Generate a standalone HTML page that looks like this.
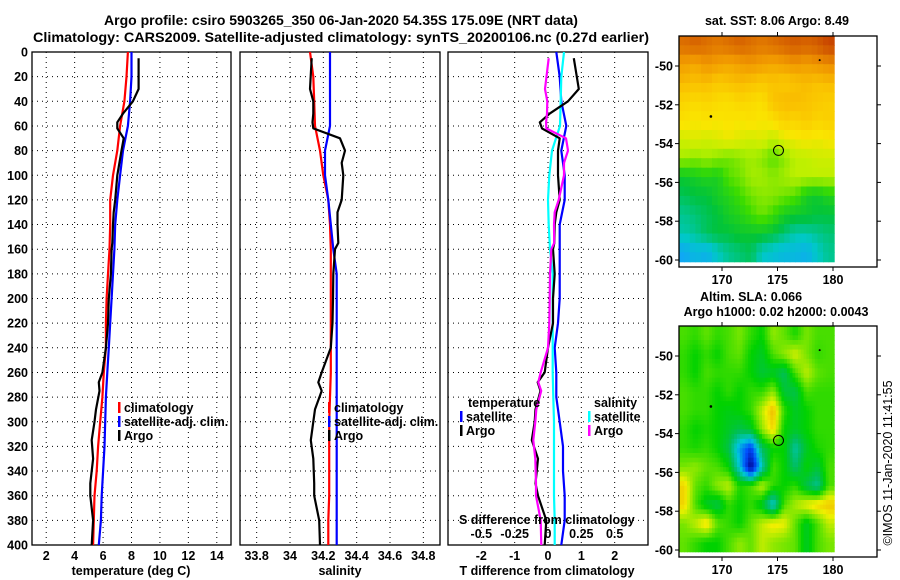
<!DOCTYPE html>
<html><head><meta charset="utf-8"><style>
html,body{margin:0;padding:0;background:#fff;}
svg{display:block;font-family:"Liberation Sans",Arial,sans-serif;font-weight:bold;}
</style></head><body>
<svg id="fig" width="900" height="580" viewBox="0 0 900 580">
<text x="341" y="25" font-size="14" text-anchor="middle">Argo profile: csiro 5903265_350 06-Jan-2020 54.35S 175.09E (NRT data)</text>
<text x="341" y="42" font-size="14" text-anchor="middle" textLength="616" lengthAdjust="spacingAndGlyphs">Climatology: CARS2009. Satellite-adjusted climatology: synTS_20200106.nc (0.27d earlier)</text>
<text x="777" y="25" font-size="12.5" text-anchor="middle">sat. SST: 8.06 Argo: 8.49</text>
<text x="751" y="301" font-size="12.5" text-anchor="middle">Altim. SLA: 0.066</text>
<text x="776" y="316" font-size="12.5" text-anchor="middle">Argo h1000: 0.02 h2000: 0.0043</text>
<text transform="translate(892,463) rotate(-90)" font-size="12.5" font-weight="normal" text-anchor="middle">©IMOS 11-Jan-2020 11:41:55</text>
<text x="131" y="575" font-size="12.5" text-anchor="middle">temperature (deg C)</text>
<text x="340" y="575" font-size="12.5" text-anchor="middle">salinity</text>
<text x="547" y="575" font-size="12.5" text-anchor="middle">T difference from climatology</text>
<g id="g"></g>
</svg>
<script>
// ---------- data ----------
const depthTicks=[0,20,40,60,80,100,120,140,160,180,200,220,240,260,280,300,320,340,360,380,400];
const climDepth=[0,20,40,60,80,100,120,140,160,180,200,220,240,260,280,300,320,340,360,380,400];
const climT=[7.75,7.65,7.5,7.2,7.0,6.7,6.5,6.5,6.45,6.35,6.25,6.2,6.2,6.05,5.95,5.8,5.65,5.55,5.4,5.35,5.3];
const satT=[8.0,8.0,7.9,7.75,7.4,7.2,7.0,6.85,6.8,6.7,6.6,6.5,6.4,6.3,6.2,6.15,6.1,6.0,5.9,5.85,5.7];
const climS=[34.12,34.14,34.145,34.15,34.18,34.2,34.23,34.24,34.245,34.245,34.245,34.245,34.245,34.245,34.24,34.235,34.235,34.235,34.235,34.23,34.23];
const satS=[34.24,34.24,34.24,34.24,34.21,34.21,34.23,34.245,34.26,34.28,34.28,34.28,34.28,34.28,34.28,34.28,34.28,34.28,34.28,34.28,34.28];
const argoDepth=[5,30,40,50,57,62,70,80,90,100,120,130,140,155,160,180,200,220,240,260,268,275,290,300,315,330,350,360,380,400];
const argoT=[8.5,8.5,8.1,7.4,7.0,7.0,7.45,7.3,7.15,7.0,6.85,6.75,6.7,6.65,6.6,6.55,6.4,6.35,6.2,5.95,5.7,5.75,5.5,5.4,5.2,5.3,5.1,5.1,5.3,5.2];
const argoS=[34.13,34.12,34.14,34.14,34.135,34.14,34.3,34.33,34.31,34.32,34.31,34.285,34.285,34.29,34.27,34.26,34.258,34.255,34.245,34.19,34.17,34.19,34.15,34.14,34.125,34.14,34.145,34.145,34.175,34.18];
const tTicks=[2,4,6,8,10,12,14];
const sTicks=[33.8,34,34.2,34.4,34.6,34.8];
const sTickLabels=["33.8","34","34.2","34.4","34.6","34.8"];
const dTTicks=[-2,-1,0,1,2];
const dSTicks=[-0.5,-0.25,0,0.25,0.5];
const latTicks=[-50,-52,-54,-56,-58,-60];
const lonTicks=[170,175,180];
const argoLon=175.09, argoLat=-54.35;
const sstGrid=[
[10.2,10.3,10.2,10.1,10.2,10.3,10.2,10.1,10.2,10.3,10.4,10.3,10.4,10.6],
[9.7,9.6,9.8,9.7,9.6,9.7,9.8,9.7,9.6,9.7,9.8,9.7,9.8,9.9],
[9.4,9.3,9.4,9.2,9.3,9.4,9.3,9.2,9.3,9.2,9.3,9.4,9.3,9.4],
[9.0,8.9,9.0,8.9,8.8,9.0,8.9,8.8,9.3,9.4,9.4,9.3,9.2,9.1],
[8.8,8.7,8.8,8.7,8.8,8.7,8.8,8.7,8.8,9.1,9.0,9.2,9.0,9.1],
[8.4,8.5,8.4,8.5,8.6,8.5,8.4,8.5,8.3,8.5,8.6,8.7,8.6,8.7],
[8.2,8.1,8.2,8.1,8.0,8.1,8.2,8.1,7.9,8.1,8.3,8.3,8.4,8.4],
[7.4,7.5,7.6,7.5,7.9,8.0,8.2,8.2,8.1,8.2,8.3,8.3,8.3,8.3],
[7.2,7.3,7.3,7.5,7.6,7.8,8.0,8.1,8.1,8.0,7.9,7.5,7.4,7.6],
[7.0,7.1,7.2,7.3,7.5,7.6,7.8,8.0,7.8,7.5,7.4,7.4,7.3,7.3],
[6.9,7.0,7.2,7.3,7.3,7.4,7.4,7.4,7.3,7.1,6.9,6.9,7.0,7.1],
[6.4,6.6,6.5,6.8,7.0,7.1,7.2,6.8,6.7,6.6,6.6,6.5,6.8,7.0]];
const slaGrid=[
[0.03,0.02,0.04,0.02,0.03,0.05,0.02,0.0,0.06,0.04,0.01,0.05,0.03,0.03],
[0.02,0.0,0.02,0.0,0.03,0.04,0.0,-0.02,0.03,0.06,0.09,0.05,0.02,0.03],
[0.02,0.0,0.03,0.02,0.02,0.02,0.0,-0.03,-0.02,-0.05,0.03,0.08,0.04,0.03],
[0.03,0.02,0.02,0.0,0.02,0.0,0.02,0.02,0.06,-0.03,-0.04,0.03,0.02,0.02],
[0.03,0.02,0.02,0.0,-0.01,0.0,0.02,0.08,0.14,0.02,-0.02,0.0,0.02,0.02],
[0.02,0.0,0.01,0.0,-0.02,-0.04,-0.02,0.06,0.12,0.0,-0.02,0.0,0.02,0.02],
[0.02,0.01,0.02,0.0,-0.04,-0.15,-0.22,-0.05,0.0,0.0,-0.09,-0.02,0.01,0.02],
[0.05,0.06,0.04,0.03,0.0,-0.12,-0.3,-0.1,0.03,0.0,-0.06,0.0,-0.03,0.03],
[0.12,0.04,0.02,0.06,0.08,0.01,0.03,0.08,0.02,0.0,0.02,-0.04,-0.08,0.03],
[0.12,0.03,-0.02,-0.04,0.02,0.0,0.02,-0.02,-0.12,0.03,0.07,0.1,0.12,0.13],
[0.05,0.08,0.12,0.04,0.02,0.0,0.04,0.08,0.11,0.1,0.04,-0.02,0.03,0.08],
[0.04,0.02,0.0,0.0,0.03,0.06,0.04,0.08,0.06,0.05,0.04,-0.02,0.03,0.05]];
const gridLon0=166.1, gridLat0=-48.45, gridDLat=0.97;

// ---------- helpers ----------
const NS="http://www.w3.org/2000/svg";
const G=document.getElementById('g');
function mk(tag,attrs,parent){const e=document.createElementNS(NS,tag);for(const k in attrs)e.setAttribute(k,attrs[k]);(parent||G).appendChild(e);return e;}
const yD=d=>52+d*(493/400);
const P1={x0:32,x1:231,min:1,max:15};
const P2={x0:240,x1:440,min:33.7,max:34.9};
const P3={x0:448,x1:648,min:-3,max:3};
const xs=(p,v)=>p.x0+(v-p.min)/(p.max-p.min)*(p.x1-p.x0);
const xS3=v=>xs(P3,v*4);
function interp(xd,yv,d){if(d<=xd[0])return yv[0];for(let i=1;i<xd.length;i++){if(d<=xd[i]){const t=(d-xd[i-1])/(xd[i]-xd[i-1]);return yv[i-1]+t*(yv[i]-yv[i-1]);}}return yv[yv.length-1];}

function panel(p,name,ticks,labels,showDepth){
  const frame=mk('rect',{x:p.x0,y:52,width:p.x1-p.x0,height:493,fill:'none',stroke:'#000','stroke-width':1.3});
  
  
  depthTicks.forEach(d=>{
    if(d>0&&d<400){const l=mk('line',{x1:p.x0,x2:p.x1,y1:yD(d),y2:yD(d),stroke:'#000','stroke-dasharray':'1 4'});
    
    }
    if(showDepth){const t=mk('text',{x:28,y:yD(d)+4.5,'font-size':12.5,'text-anchor':'end'});t.textContent=d;
    
    }
  });
  ticks.forEach((v,i)=>{
    const x=xs(p,v);
    const l=mk('line',{x1:x,x2:x,y1:52,y2:545,stroke:'#000','stroke-dasharray':'1 4'});
    
    
    const t=mk('text',{x:x,y:560,'font-size':12.5,'text-anchor':'middle'});t.textContent=labels[i];
    
    
  });
}
function line(pts,color,name,w){
  const pl=mk('polyline',{points:pts.map(p=>p[0].toFixed(1)+','+p[1].toFixed(1)).join(' '),fill:'none',stroke:color,'stroke-width':w||2.2,'stroke-linejoin':'round'});
  
  
}
function legend(x,y,color,label,name){
  const r=mk('rect',{x:x,y:y-10,width:2.5,height:11,fill:color});
  
  
  const t=mk('text',{x:x+6,y:y,'font-size':12.5});t.textContent=label;
  
  
}

// ---------- panel 1: temperature ----------
panel(P1,'temperature-panel',tTicks,tTicks.map(String),true);
line(climDepth.map((d,i)=>[xs(P1,climT[i]),yD(d)]),'#f00','temperature-climatology-line');
line(climDepth.map((d,i)=>[xs(P1,satT[i]),yD(d)]),'#00f','temperature-satellite-line');
line(argoDepth.map((d,i)=>[xs(P1,argoT[i]),yD(d)]),'#000','temperature-argo-line');
legend(118,412,'#f00','climatology','temp-legend-climatology');
legend(118,426,'#00f','satellite-adj. clim.','temp-legend-satellite');
legend(118,440,'#000','Argo','temp-legend-argo');

// ---------- panel 2: salinity ----------
panel(P2,'salinity-panel',sTicks,sTickLabels,false);
line(climDepth.map((d,i)=>[xs(P2,climS[i]),yD(d)]),'#f00','salinity-climatology-line');
line(climDepth.map((d,i)=>[xs(P2,satS[i]),yD(d)]),'#00f','salinity-satellite-line');
line(argoDepth.map((d,i)=>[xs(P2,argoS[i]),yD(d)]),'#000','salinity-argo-line');
legend(328,412,'#f00','climatology','sal-legend-climatology');
legend(328,426,'#00f','satellite-adj. clim.','sal-legend-satellite');
legend(328,440,'#000','Argo','sal-legend-argo');

// ---------- panel 3: differences ----------
panel(P3,'difference-panel',dTTicks,dTTicks.map(String),false);
line(climDepth.map((d,i)=>[xs(P3,satT[i]-climT[i]),yD(d)]),'#00f','tdiff-satellite-line');
line(climDepth.map((d,i)=>[xS3(satS[i]-climS[i]),yD(d)]),'#0ff','sdiff-satellite-line');
line(argoDepth.map((d,i)=>[xs(P3,argoT[i]-interp(climDepth,climT,d)),yD(d)]),'#000','tdiff-argo-line');
line(argoDepth.map((d,i)=>[xS3(argoS[i]-interp(climDepth,climS,d)),yD(d)]),'#f0f','sdiff-argo-line');
{
 const t=mk('text',{x:468,y:407,'font-size':12.5});t.textContent='temperature';
 
 
 const s=mk('text',{x:594,y:407,'font-size':12.5});s.textContent='salinity';
 
 
}
legend(460,421,'#00f','satellite','tdiff-legend-satellite');
legend(460,435,'#000','Argo','tdiff-legend-argo');
legend(588,421,'#0ff','satellite','sdiff-legend-satellite');
legend(588,435,'#f0f','Argo','sdiff-legend-argo');
{
 const t=mk('text',{x:459,y:524,'font-size':12.5});t.textContent='S difference from climatology';
 
 
 dSTicks.forEach(v=>{
  const l=mk('text',{x:xS3(v),y:538,'font-size':12.5,'text-anchor':'middle'});l.textContent=String(v);
  
  
 });
}

// ---------- maps ----------
function lerpCol(stops,v){
  if(v<=stops[0][0])return stops[0][1];
  for(let i=1;i<stops.length;i++){if(v<=stops[i][0]){const t=(v-stops[i-1][0])/(stops[i][0]-stops[i-1][0]);const a=stops[i-1][1],b=stops[i][1];return a.map((c,k)=>Math.round(c+t*(b[k]-c)));}}
  return stops[stops.length-1][1];
}
const sstStops=[[6.3,[20,160,255]],[6.8,[0,200,200]],[7.3,[0,195,60]],[7.8,[60,220,0]],[8.3,[190,240,0]],[8.7,[250,230,0]],[9.3,[250,195,0]],[9.8,[240,150,0]],[10.6,[200,70,0]]];
const slaStops=[[-0.3,[0,0,140]],[-0.2,[0,80,255]],[-0.12,[0,200,220]],[-0.05,[0,190,90]],[0,[0,210,0]],[0.05,[120,230,0]],[0.1,[240,240,0]],[0.15,[240,170,0]]];
function sampleGrid(grid,fr,fc){
  const R=grid.length,C=grid[0].length;
  fr=Math.max(0,Math.min(R-1,fr));fc=Math.max(0,Math.min(C-1,fc));
  const r0=Math.floor(fr),c0=Math.floor(fc),r1=Math.min(R-1,r0+1),c1=Math.min(C-1,c0+1);
  const tr=fr-r0,tc=fc-c0;
  const a=grid[r0][c0]*(1-tc)+grid[r0][c1]*tc, b=grid[r1][c0]*(1-tc)+grid[r1][c1]*tc;
  return a*(1-tr)+b*tr;
}
function map(y0,grid,stops,name,sub){
  const M={x0:679,x1:877,y0:y0,y1:y0+231};
  const lx=lon=>722+(lon-170)*11.1;
  const ly=lat=>y0+30+(-50-lat)*19.4;
  const R=grid.length,C=grid[0].length;
  for(let r=0;r<R*sub;r++)for(let c=0;c<C*sub;c++){
    const v=sub===1?grid[r][c]:sampleGrid(grid,(r+0.5)/sub-0.5,(c+0.5)/sub-0.5);
    const x=lx(gridLon0+c/sub), y=ly(gridLat0-r*gridDLat/sub);
    const w=lx(gridLon0+(c+1)/sub)-x, h=ly(gridLat0-(r+1)*gridDLat/sub)-y;
    const col=lerpCol(stops,v);
    const cell=mk('rect',{x:x.toFixed(1),y:y.toFixed(1),width:(w+0.6).toFixed(1),height:(h+0.6).toFixed(1),fill:'rgb('+col.join(',')+')'});
    
    
  }
  const f=mk('rect',{x:M.x0,y:M.y0,width:M.x1-M.x0,height:M.y1-M.y0,fill:'none',stroke:'#000','stroke-width':1.3});
  
  
  latTicks.forEach(lat=>{
    const y=ly(lat);
    const a=mk('line',{x1:M.x0-4,x2:M.x0,y1:y,y2:y,stroke:'#000'});
    
    
    const b=mk('line',{x1:M.x1,x2:M.x1+4,y1:y,y2:y,stroke:'#000'});
    
    
    const t=mk('text',{x:673,y:y+4.5,'font-size':12.5,'text-anchor':'end'});t.textContent=lat;
    
    
  });
  lonTicks.forEach(lon=>{
    const x=lx(lon);
    const a=mk('line',{x1:x,x2:x,y1:M.y0-4,y2:M.y0,stroke:'#000'});
    
    
    const b=mk('line',{x1:x,x2:x,y1:M.y1,y2:M.y1+4,stroke:'#000'});
    
    
    const t=mk('text',{x:x,y:M.y1+17,'font-size':12.5,'text-anchor':'middle'});t.textContent=lon;
    
    
  });
  const i1=mk('circle',{cx:lx(169),cy:ly(-52.6),r:1.3,fill:'#000'});
  
  
  const i2=mk('circle',{cx:lx(178.8),cy:ly(-49.7),r:1,fill:'#000'});
  
  
  const c=mk('circle',{cx:lx(argoLon),cy:ly(argoLat),r:5,fill:'none',stroke:'#000','stroke-width':1});
  
  
}
map(36,sstGrid,sstStops,'sst-map',2);
map(326,slaGrid,slaStops,'sla-map',4);
</script>
</body></html>
